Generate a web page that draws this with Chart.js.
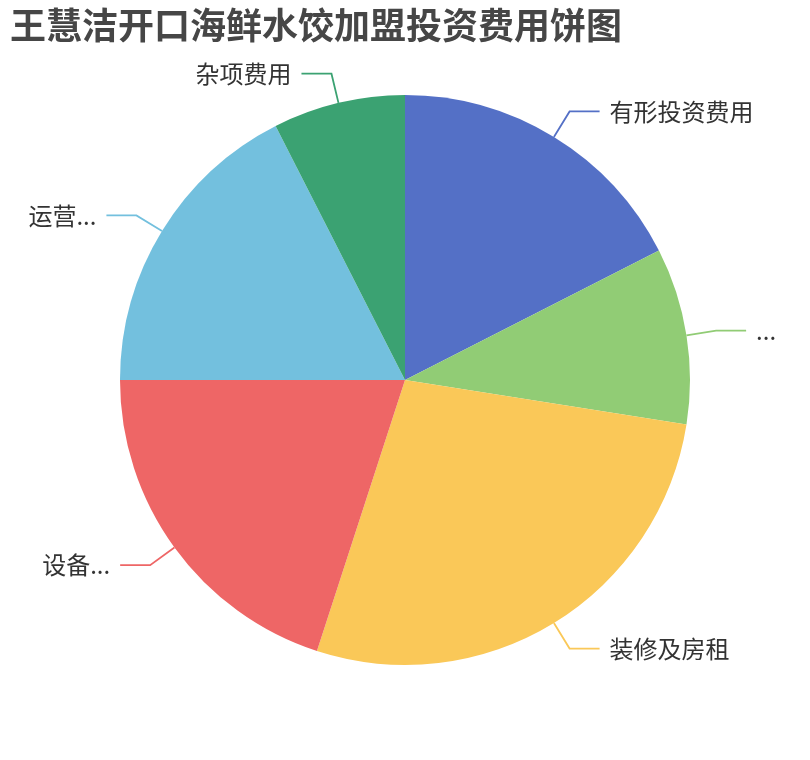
<!DOCTYPE html>
<html>
<head>
<meta charset="utf-8">
<script src="https://cdn.jsdelivr.net/npm/chart.js@4"></script>
<style>
  html, body { margin: 0; padding: 0; background: #ffffff; }
  #wrap { width: 810px; height: 760px; }
</style>
</head>
<body>
<div id="wrap"><canvas id="pie"></canvas></div>
<script>
// chart data / 图表数据
const titleText = "王慧洁开口海鲜水饺加盟投资费用饼图";
const categories = ["有形投资费用", "...", "装修及房租", "设备...", "运营...", "杂项费用"];
const values = [35, 20, 55, 40, 35, 15];
const colors = ["#5470c6", "#91cc75", "#fac858", "#ee6666", "#73c0de", "#3ba272"];

const CJK = '"Noto Sans CJK SC", "Noto Sans", sans-serif';

// leader lines + outside labels, echarts style
const leaderLines = {
	id: "leaderLines",
	afterDatasetsDraw(chart) {
		const ctx = chart.ctx;
		const meta = chart.getDatasetMeta(0);
		const len1 = 30, len2 = 30, gap = 10;
		ctx.save();
		meta.data.forEach(function(arc, i) {
			const p = arc.getProps(["x", "y", "startAngle", "endAngle", "outerRadius"], true);
			const mid = (p.startAngle + p.endAngle) / 2;
			const c = Math.cos(mid), s = Math.sin(mid);
			const x0 = p.x + c * p.outerRadius, y0 = p.y + s * p.outerRadius;
			const x1 = p.x + c * (p.outerRadius + len1), y1 = p.y + s * (p.outerRadius + len1);
			const dir = c >= 0 ? 1 : -1;
			const x2 = x1 + dir * len2;
			ctx.beginPath();
			ctx.moveTo(x0, y0);
			ctx.lineTo(x1, y1);
			ctx.lineTo(x2, y1);
			ctx.strokeStyle = colors[i];
			ctx.lineWidth = 1.8;
			ctx.stroke();
			ctx.fillStyle = "#333333";
			ctx.font = "24px " + CJK;
			ctx.textBaseline = "middle";
			ctx.textAlign = dir > 0 ? "left" : "right";
			ctx.fillText(chart.data.labels[i], x2 + dir * gap, y1);
		});
		ctx.restore();
	}
};

window.addEventListener("load", function() {
	new Chart(document.getElementById("pie").getContext("2d"), {
		type: "pie",
		data: {
			labels: categories,
			datasets: [{
				data: values,
				backgroundColor: colors,
				borderWidth: 0
			}]
		},
		options: {
			responsive: true,
			maintainAspectRatio: false,
			animation: false,
			layout: { padding: { top: 0, bottom: 95, left: 10, right: 10 } },
			plugins: {
				legend: { display: false },
				tooltip: { enabled: false },
				title: {
					display: true,
					text: titleText,
					align: "start",
					color: "#464646",
					font: { size: 36, weight: "bold", family: CJK, lineHeight: 1.2 },
					padding: { top: 4, bottom: 47.8 }
				}
			}
		},
		plugins: [leaderLines]
	});
});
</script>
</body>
</html>
